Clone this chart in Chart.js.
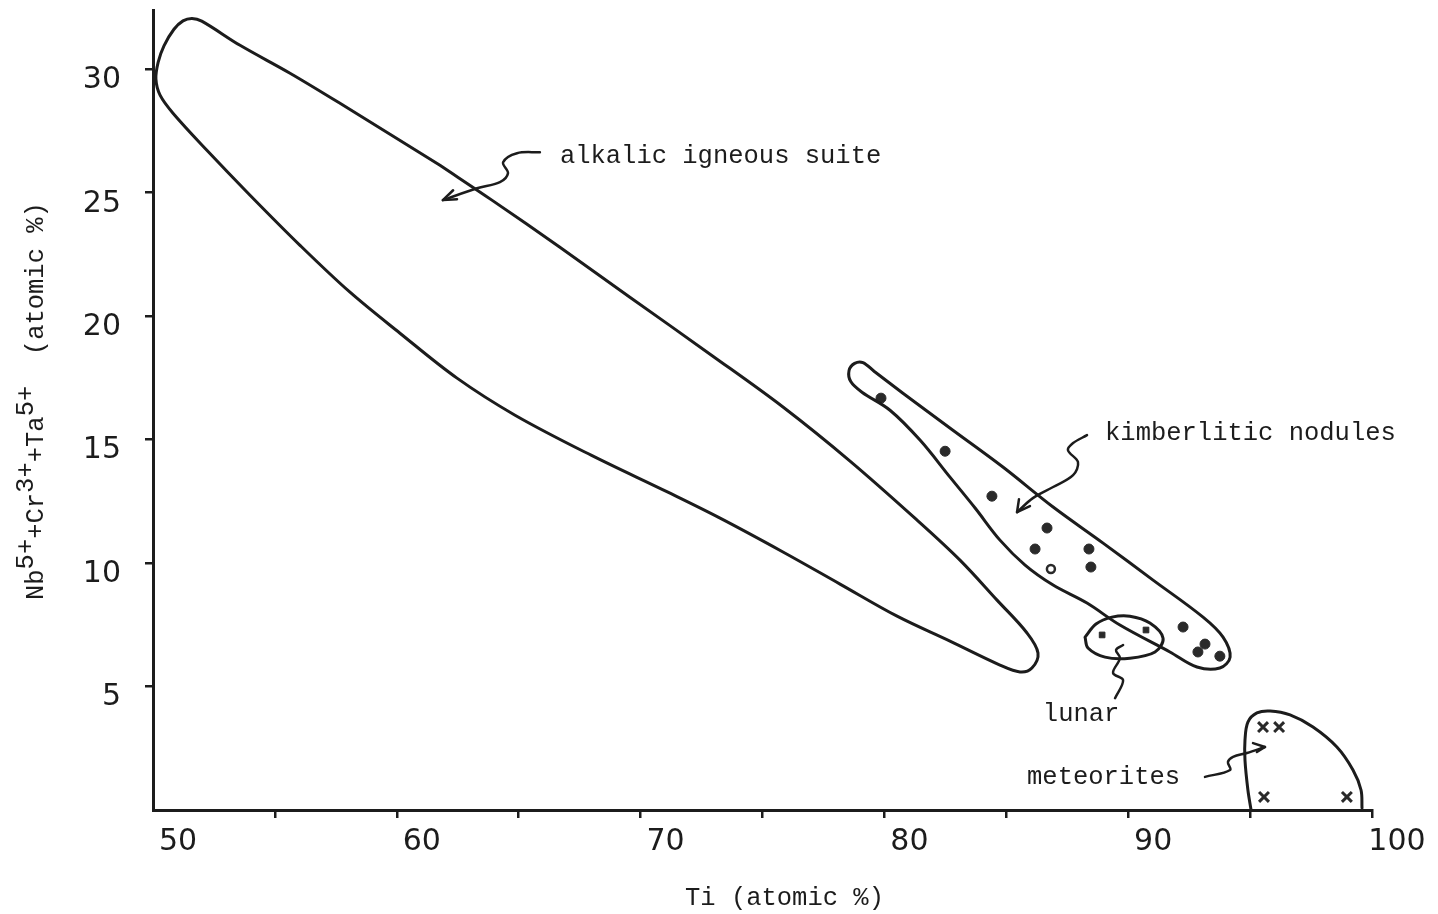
<!DOCTYPE html>
<html>
<head>
<meta charset="utf-8">
<title>Ti vs Nb+Cr+Ta</title>
<script src="https://cdn.jsdelivr.net/npm/chart.js@4.4.1/dist/chart.umd.min.js"></script>
<style>
  html, body { margin: 0; padding: 0; background: #fff; }
  #wrap { width: 1438px; height: 914px; }
</style>
</head>
<body>
<div id="wrap"><canvas id="chart" width="1438" height="914"></canvas></div>
<script>
// ── Axis ticks ────────────────────────────────────────────────────────────────
const xTicks = [50, 55, 60, 65, 70, 75, 80, 85, 90, 95, 100];
const xTickLabels = ['50', '', '60', '', '70', '', '80', '', '90', '', '100'];
const yTicks = [0, 5, 10, 15, 20, 25, 30];
const yTickLabels = ['', '5', '10', '15', '20', '25', '30'];

// ── Field outlines, [Ti, Nb+Cr+Ta] ───────────────────────────────────────────
const alkalicOutline = [
  [61.77, 26.11], [63.90, 24.70], [66.69, 22.79], [69.56, 20.77], [72.85, 18.46],
  [75.84, 16.32], [78.59, 14.13], [81.34, 11.74], [83.10, 10.12],
  [84.62, 8.50], [85.85, 7.17], [86.30, 6.36], [86.05, 5.75], [85.56, 5.59],
  [84.74, 5.87], [82.69, 6.84], [80.52, 7.85], [78.18, 9.15], [75.84, 10.45],
  [73.26, 11.82], [71.12, 12.87], [67.97, 14.37], [64.85, 15.99], [62.47, 17.49],
  [60.13, 19.31], [58.08, 20.97], [56.03, 22.87], [53.98, 24.90], [52.21, 26.72],
  [50.82, 28.22], [50.29, 28.95], [50.12, 29.60], [50.21, 30.28], [50.45, 30.95],
  [50.86, 31.62], [51.23, 31.96], [51.60, 32.06], [52.00, 31.95], [53.57, 30.97],
  [55.62, 29.84], [57.67, 28.62], [61.77, 26.11]
];
const kimberliteOutline = [
  [82.81, 15.38], [84.86, 13.89], [86.92, 12.27], [88.97, 10.81], [91.02, 9.31],
  [93.07, 7.81], [93.89, 7.00], [94.18, 6.19], [93.76, 5.75], [92.82, 5.79],
  [91.71, 6.40], [89.66, 7.49], [88.31, 8.38], [86.92, 9.11], [85.77, 9.92],
  [84.74, 10.93], [83.72, 12.23], [82.69, 13.48], [81.46, 14.98], [80.23, 16.19],
  [79.08, 16.92], [78.62, 17.35], [78.55, 17.80], [78.78, 18.09], [79.12, 18.12],
  [79.60, 17.75], [80.76, 16.88], [82.81, 15.38]
];
const lunarOutline = [
  [88.23, 7.00], [88.68, 7.53], [89.33, 7.81], [90.07, 7.85], [90.89, 7.57],
  [91.43, 6.96], [91.10, 6.40], [90.07, 6.15], [89.05, 6.19], [88.35, 6.56], [88.23, 7.00]
];
const meteoriteOutline = [
  [95.04, 0.00], [94.91, 0.81], [94.79, 2.02], [94.79, 2.83], [94.91, 3.56],
  [95.28, 3.93], [95.82, 4.01], [96.64, 3.85], [97.58, 3.36], [98.56, 2.55],
  [99.22, 1.62], [99.55, 0.81], [99.59, 0.08]
];

// ── Analyses ─────────────────────────────────────────────────────────────────
const kimberlitePoints = [
  [79.86, 16.68], [82.49, 14.53], [84.41, 12.71], [86.67, 11.42], [86.18, 10.57],
  [88.39, 10.57], [88.47, 9.84], [92.25, 7.41], [93.15, 6.72], [92.86, 6.40], [93.76, 6.23]
];
const kimberliteOpenPoints = [[86.83, 9.76]];
const lunarPoints = [[88.93, 7.09], [90.73, 7.29]];
const meteoritePoints = [[95.53, 3.36], [96.19, 3.36], [95.57, 0.53], [98.97, 0.53]];

// ── Leader arrows ────────────────────────────────────────────────────────────
const alkalicLeader = [[65.87, 26.64], [64.93, 26.60], [64.36, 26.23], [64.56, 25.79], [64.23, 25.43], [63.29, 25.18], [61.89, 24.70]];
const alkalicHead = [[62.31, 25.10], [61.89, 24.70], [62.47, 24.74]];
const kimberliteLeader = [[88.31, 15.18], [87.74, 14.86], [87.53, 14.57], [87.94, 14.09], [87.74, 13.56], [86.92, 13.08], [86.09, 12.63], [85.44, 12.06]];
const kimberliteHead = [[85.52, 12.59], [85.44, 12.06], [85.97, 12.31]];
const lunarLeader = [[89.46, 4.53], [89.79, 5.26], [89.38, 5.55], [89.66, 6.15], [89.50, 6.48], [89.79, 6.68]];
const meteoriteLeader = [[93.15, 1.34], [94.18, 1.62], [94.09, 1.94], [94.30, 2.15], [94.87, 2.31], [95.61, 2.55]];
const meteoriteHead = [[95.12, 2.71], [95.61, 2.55], [95.28, 2.35]];

// ── Labels (anchored at data coords, left/baseline) ──────────────────────────
const fieldLabels = ['alkalic igneous suite', 'kimberlitic nodules', 'lunar', 'meteorites'];
const fieldLabelX = [66.69, 89.05, 86.50, 85.85];
const fieldLabelY = [26.19, 14.98, 3.60, 1.05];

const INK = '#1c1c1c';
const MONO = '"Liberation Mono", "DejaVu Sans Mono", monospace';

const pts = arr => arr.map(([x, y]) => ({ x, y }));

function outline(data, width, tension) {
  return {
    data: pts(data), showLine: true, pointRadius: 0, borderColor: INK,
    borderWidth: width || 3, tension: tension == null ? 0.35 : tension, fill: false, clip: false,
    borderCapStyle: 'round', borderJoinStyle: 'round'
  };
}
function head(data) {
  return {
    data: pts(data), showLine: true, pointRadius: 0, borderColor: INK,
    borderWidth: 2.5, tension: 0, fill: false, clip: false,
    borderCapStyle: 'round', borderJoinStyle: 'round'
  };
}

// Text drawn on top: group labels, axis titles (y title has superscripts)
const textPlugin = {
  id: 'textPlugin',
  afterDraw(chart) {
    const { ctx, scales: { x, y } } = chart;
    ctx.save();
    ctx.fillStyle = INK;
    ctx.font = '25.5px ' + MONO;
    ctx.textAlign = 'left';
    ctx.textBaseline = 'alphabetic';
    fieldLabels.forEach((t, i) => {
      ctx.fillText(t, x.getPixelForValue(fieldLabelX[i]), y.getPixelForValue(fieldLabelY[i]));
    });

    ctx.fillText('Ti (atomic %)', 685, 905);

    // rotated y title
    ctx.translate(43, 600);
    ctx.rotate(-Math.PI / 2);
    const parts = [['Nb', 0], ['5+', 1], ['+Cr', 0], ['3+', 1], ['+Ta', 0], ['5+', 1], ['  (atomic %)', 0]];
    let cx = 0;
    parts.forEach(([t, sup]) => {
      ctx.fillText(t, cx, sup ? -10 : 0);
      cx += ctx.measureText(t).width;
    });
    ctx.restore();
  }
};

new Chart(document.getElementById('chart'), {
  type: 'scatter',
  data: {
    datasets: [
      outline(alkalicOutline),
      outline(kimberliteOutline),
      outline(lunarOutline),
      outline(meteoriteOutline),
      outline(alkalicLeader, 2.5), head(alkalicHead),
      outline(kimberliteLeader, 2.5), head(kimberliteHead),
      outline(lunarLeader, 2.5),
      outline(meteoriteLeader, 2.5), head(meteoriteHead),
      { data: pts(kimberlitePoints), pointStyle: 'circle', pointRadius: 5,
        backgroundColor: '#2a2a2a', borderColor: '#2a2a2a', borderWidth: 1 },
      { data: pts(kimberliteOpenPoints), pointStyle: 'circle', pointRadius: 4,
        backgroundColor: '#fff', borderColor: '#2a2a2a', borderWidth: 2.5 },
      { data: pts(lunarPoints), pointStyle: 'rect', pointRadius: 4,
        backgroundColor: '#2a2a2a', borderColor: '#2a2a2a', borderWidth: 1 },
      { data: pts(meteoritePoints), pointStyle: 'crossRot', pointRadius: 7,
        borderColor: '#2a2a2a', borderWidth: 3, clip: false }
    ]
  },
  options: {
    responsive: false,
    animation: false,
    events: [],
    layout: { padding: { left: 0, top: 10, right: 66, bottom: 0 } },
    plugins: { legend: { display: false }, tooltip: { enabled: false } },
    scales: {
      x: {
        type: 'linear', min: 50, max: 100,
        afterBuildTicks: s => { s.ticks = xTicks.map(v => ({ value: v })); },
        afterFit: s => { s.height = 104; s.paddingLeft = 0; s.paddingRight = 0; },
        border: { display: true, color: INK, width: 3 },
        grid: {
          drawOnChartArea: false, drawTicks: true, tickLength: 8, lineWidth: 2.5,
          color: c => (c.tick && c.tick.value === 50) ? 'rgba(0,0,0,0)' : INK
        },
        ticks: {
          autoSkip: false, maxRotation: 0, padding: 6, labelOffset: 25,
          color: INK, font: { family: '"DejaVu Sans", sans-serif', size: 30 },
          callback: (v, i) => xTickLabels[xTicks.indexOf(v)]
        }
      },
      y: {
        type: 'linear', min: 0, max: 32.4,
        afterBuildTicks: s => { s.ticks = yTicks.map(v => ({ value: v })); },
        afterFit: s => { s.width = 153; s.paddingTop = 0; s.paddingBottom = 0; },
        border: { display: true, color: INK, width: 3 },
        grid: {
          drawOnChartArea: false, drawTicks: true, tickLength: 8, lineWidth: 2.5,
          color: c => (c.tick && c.tick.value === 0) ? 'rgba(0,0,0,0)' : INK
        },
        ticks: {
          autoSkip: false, padding: 24, labelOffset: 11,
          color: INK, font: { family: '"DejaVu Sans", sans-serif', size: 30 },
          callback: v => yTickLabels[yTicks.indexOf(v)]
        }
      }
    }
  },
  plugins: [textPlugin]
});
</script>
</body>
</html>
